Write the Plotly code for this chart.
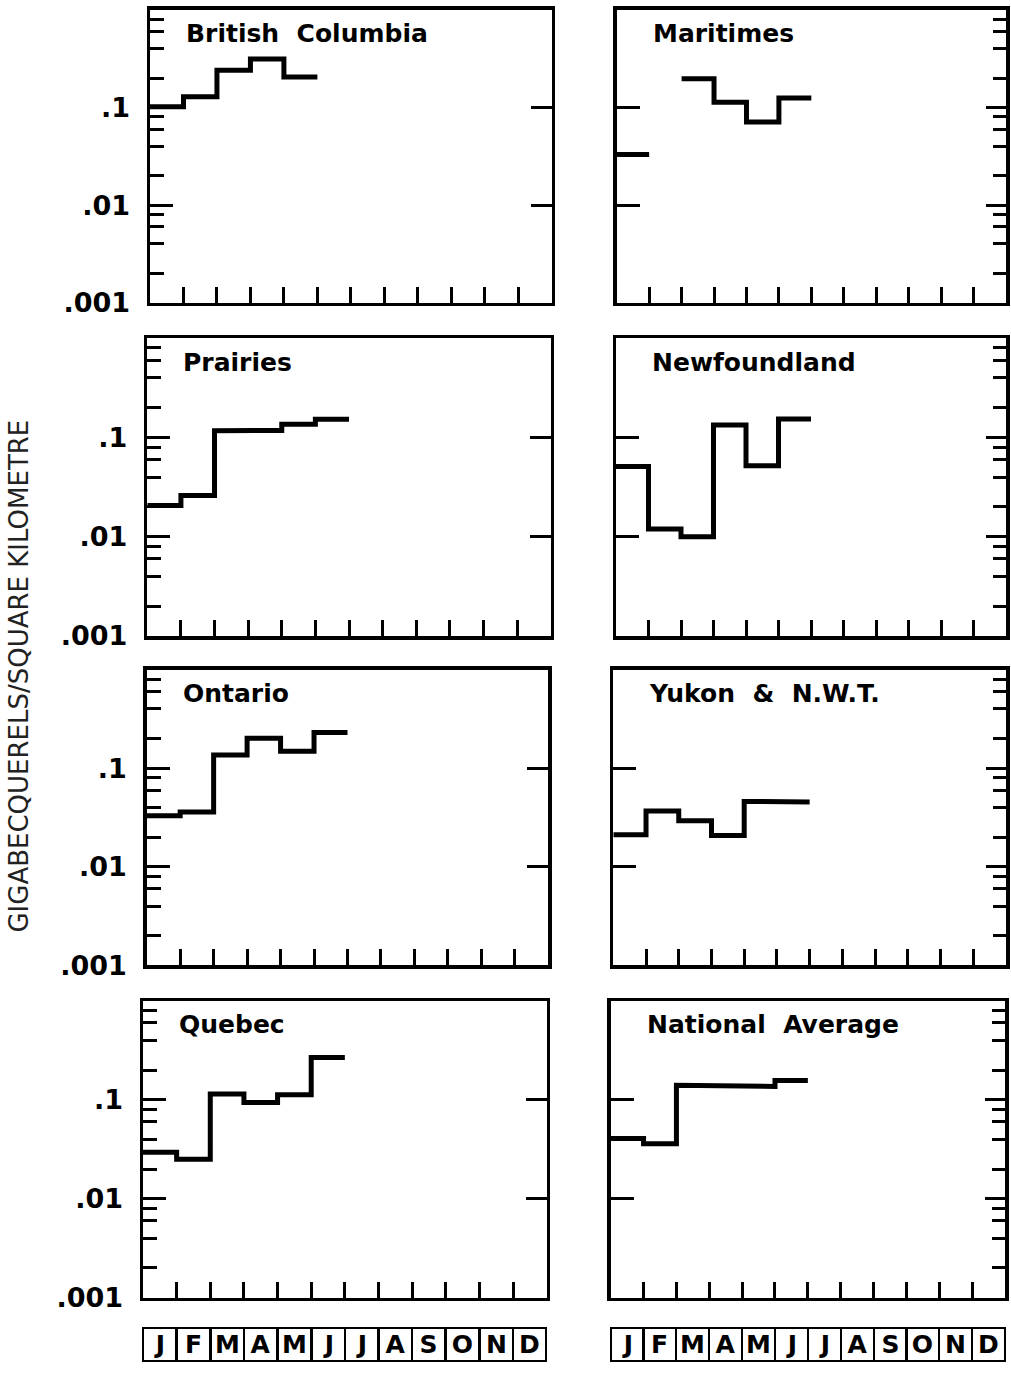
import plotly.graph_objects as go

# ---------------- data ----------------
months = ["J", "F", "M", "A", "M", "J", "J", "A", "S", "O", "N", "D"]
regions = ["British Columbia", "Maritimes", "Prairies", "Newfoundland",
           "Ontario", "Yukon & N.W.T.", "Quebec", "National Average"]
bc = [0.102, 0.129, 0.241, 0.313, 0.205]
maritimes = [0.033, None, 0.197, 0.113, 0.071, 0.125]
prairies = [0.0207, 0.026, 0.117, 0.118, 0.136, 0.153]
newfoundland = [0.051, 0.012, 0.0100, 0.134, 0.052, 0.154]
ontario = [0.033, 0.036, 0.136, 0.201, 0.149, 0.231]
yukon = [0.0211, 0.0368, 0.0293, 0.0208, 0.046, 0.0455]
quebec = [0.0296, 0.0251, 0.115, 0.094, 0.113, 0.268]
national = [0.0407, 0.036, 0.141, 0.140, 0.137, 0.157]
series = [bc, maritimes, prairies, newfoundland, ontario, yukon, quebec, national]

y_tickvals = [0.001, 0.01, 0.1]
y_ticktext = [".001", ".01", ".1"]
y_title = "GIGABECQUERELS/SQUARE KILOMETRE"

# ---------------- layout geometry (pixels) ----------------
W, H = 1011, 1381
rows_y = [(10, 306), (342, 643), (677, 976), (1012, 1312)]
cols_x = {
    0: [(150, 551.7), (147.3, 550.7), (146.7, 548.3), (143, 546.7)],
    1: [(616.7, 1006), (616, 1006), (613.3, 1006), (610.7, 1005)],
}

minor_vals = [m * 10 ** e for e in (-3, -2, -1) for m in (2, 4, 6, 8)]
BOLD = dict(family="DejaVu Sans", color="black", weight=700)

fig = go.Figure()
annotations = []
layout = {}

for i, (name, vals) in enumerate(zip(regions, series), start=1):
    row, col = (i - 1) // 2, (i - 1) % 2
    y0, y1 = rows_y[row]
    x0, x1 = cols_x[col][row]
    sfx = "" if i == 1 else str(i)

    # step line built from month boundaries
    xs, ys = [], []
    for m, v in enumerate(vals):
        if v is None:
            xs.append(None)
            ys.append(None)
            continue
        xs += [m, m + 1]
        ys += [v, v]
    fig.add_trace(go.Scatter(x=xs, y=ys, mode="lines", xaxis=f"x{sfx}", yaxis=f"y{sfx}",
                             line=dict(color="black", width=5), connectgaps=False,
                             showlegend=False, hoverinfo="skip"))
    # empty trace so the right-hand (overlaying) axis is drawn
    fig.add_trace(go.Scatter(x=[], y=[], mode="lines", xaxis=f"x{sfx}", yaxis=f"y{i + 8}",
                             showlegend=False, hoverinfo="skip"))

    layout[f"xaxis{sfx}"] = dict(
        domain=[x0 / W, x1 / W], range=[0, 12], anchor=f"y{sfx}",
        tickmode="array", tickvals=list(range(1, 12)), ticks="inside", ticklen=16,
        tickwidth=3, tickcolor="black", showticklabels=False,
        showline=True, linewidth=3.5, linecolor="black", mirror=True,
        showgrid=False, zeroline=False, fixedrange=True)

    left = dict(
        domain=[1 - y1 / H, 1 - y0 / H], type="log", range=[-3, 0], anchor=f"x{sfx}",
        side="left", tickmode="array", tickvals=y_tickvals, ticks="inside",
        ticklen=23, tickwidth=3, tickcolor="black",
        showline=True, linewidth=3.5, linecolor="black",
        showgrid=False, zeroline=False, fixedrange=True)
    right = dict(
        type="log", range=[-3, 0], anchor=f"x{sfx}", overlaying=f"y{sfx}",
        side="right", tickmode="array", tickvals=[0.01, 0.1], ticks="inside",
        ticklen=21, tickwidth=3, tickcolor="black", showticklabels=False,
        showline=True, linewidth=3.5, linecolor="black",
        showgrid=False, zeroline=False, fixedrange=True)
    minor = dict(tickmode="array", tickvals=minor_vals, ticks="inside",
                 ticklen=14, tickwidth=3, tickcolor="black", showgrid=False)
    if col == 0:
        left.update(ticktext=y_ticktext, showticklabels=True,
                    tickfont=dict(size=27, **BOLD), ticklabelstandoff=11, minor=minor)
    else:
        left.update(showticklabels=False)
        right.update(minor=dict(minor, ticklen=13), ticklen=20)
    layout[f"yaxis{sfx}"] = left
    layout[f"yaxis{i + 8}"] = right

    annotations.append(dict(
        text=name.replace(" ", "\u00a0\u00a0"), xref=f"x{sfx} domain", yref=f"y{sfx} domain",
        x=34 / (x1 - x0), y=1 - 24 / (y1 - y0), xanchor="left", yanchor="middle",
        showarrow=False, font=dict(size=25, **BOLD)))

# month boxes under the bottom panels
for ax in ("x7", "x8"):
    for m, lab in enumerate(months):
        annotations.append(dict(
            text=lab, xref=ax, yref="paper", x=m + 0.5, y=1 - 1359.5 / H,
            xanchor="center", yanchor="middle", showarrow=False,
            width=29, height=29, borderwidth=2, borderpad=1, bordercolor="black",
            font=dict(size=25, **BOLD)))

# shared y-axis title
annotations.append(dict(
    text=y_title, xref="paper", yref="paper", x=19 / W, y=1 - 684 / H,
    xanchor="center", yanchor="middle", textangle=-90, showarrow=False,
    font=dict(family="DejaVu Sans", size=26, color="#222222")))

fig.update_layout(
    width=W, height=H, margin=dict(l=0, r=0, t=0, b=0),
    paper_bgcolor="white", plot_bgcolor="white", showlegend=False,
    annotations=annotations, **layout)

fig.write_html("out.html", config={"displayModeBar": False, "staticPlot": True},
               post_script="document.body.style.margin='0px';"
                           "document.documentElement.style.overflow='hidden';")
